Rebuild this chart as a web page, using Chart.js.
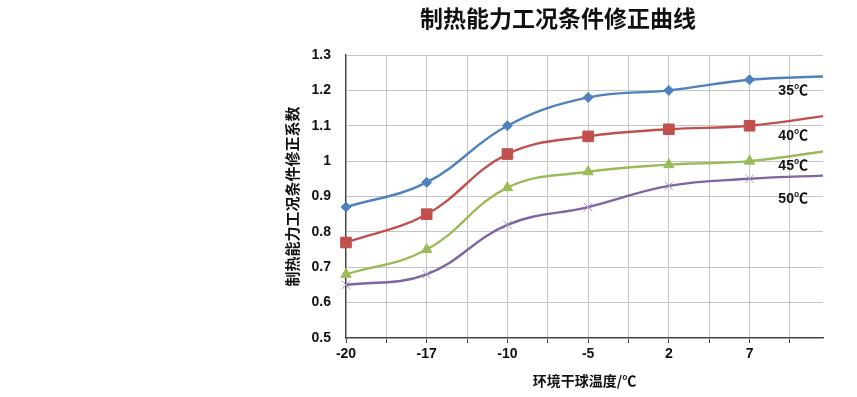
<!DOCTYPE html>
<html><head><meta charset="utf-8">
<script src="https://cdn.jsdelivr.net/npm/chart.js@4"></script>
<style>html,body{margin:0;padding:0;background:#fff}#wrap{position:absolute;left:0;top:0;width:857px;height:397px}</style>
</head><body><div id="wrap"><canvas id="c" width="857" height="397"></canvas></div>
<script>
const categories = ['-20', '-17', '-10', '-5', '2', '7', ''];
const s35 = [0.87, 0.94, 1.10, 1.18, 1.20, 1.23, 1.24];
const s40 = [0.77, 0.85, 1.02, 1.07, 1.09, 1.10, 1.13];
const s45 = [0.68, 0.75, 0.925, 0.97, 0.99, 1.00, 1.03];
const s50 = [0.65, 0.68, 0.82, 0.87, 0.93, 0.95, 0.96];
const seriesNames = ['35℃', '40℃', '45℃', '50℃'];
const labelX = [5.54, 5.54, 5.54, 5.54];
const labelY = [1.199, 1.072, 0.986, 0.893];
const titleText = '制热能力工况条件修正曲线';
const yTitle = '制热能力工况条件修正系数';
const xTitle = '环境干球温度/℃';

const pts = arr => arr.map((v, i) => ({x: i, y: v}));
const FONT = "'Liberation Sans', Arial, 'Noto Sans CJK SC', sans-serif";
const CJK = "'Noto Sans CJK SC', sans-serif";

const mk = (name, data, color, style, r, pcolor, pbw) => ({
  label: name, data: pts(data), borderColor: color, backgroundColor: pcolor || color,
  pointBackgroundColor: pcolor || color, pointBorderColor: pcolor || color,
  pointBorderWidth: pbw || 1, borderWidth: 2.4, pointStyle: style, pointRadius: r,
  pointHoverRadius: r, tension: 0.4, clip: {left: 12, top: 12, bottom: 12, right: 0}
});

const overlay = {
  id: 'overlay',
  afterDraw(chart) {
    const ctx = chart.ctx, xs = chart.scales.x, ys = chart.scales.y;
    ctx.save();
    ctx.fillStyle = '#111';
    ctx.textAlign = 'center'; ctx.textBaseline = 'middle';
    ctx.font = "bold 23px " + CJK;
    ctx.fillText(titleText, 558, 18);
    ctx.font = "bold 14px " + FONT;
    seriesNames.forEach((n, i) => {
      ctx.fillText(n, xs.getPixelForValue(labelX[i]), ys.getPixelForValue(labelY[i]));
    });
    ctx.restore();
  }
};

new Chart(document.getElementById('c'), {
  type: 'line',
  data: {
    datasets: [
      mk(seriesNames[0], s35, '#4f81bd', 'rectRot', 5),
      mk(seriesNames[1], s40, '#c0504d', 'rect', 7.5),
      mk(seriesNames[2], s45, '#9bbb59', 'triangle', 6),
      mk(seriesNames[3], s50, '#8064a2', 'crossRot', 6, '#a897c4', 1)
    ]
  },
  options: {
    responsive: false, animation: false, devicePixelRatio: 1,
    layout: {padding: {left: 270, right: 34, top: 55, bottom: 0}},
    plugins: {legend: {display: false}, title: {display: false}, tooltip: {enabled: false}},
    scales: {
      x: {
        type: 'linear', min: 0, max: 5.91,
        afterFit: s => { s.height = 59; },
        ticks: {stepSize: 0.5, includeBounds: false, autoSkip: false, maxRotation: 0,
          padding: 3, color: '#111', font: {family: FONT, size: 14, weight: 'bold'},
          callback: v => Number.isInteger(v) ? categories[v] : ''},
        grid: {color: '#c4c4c4', lineWidth: 1, drawTicks: true, tickLength: 5, tickColor: '#404040'},
        border: {display: true, color: '#404040', width: 1.2},
        title: {display: true, text: xTitle, color: '#111', padding: {top: 0, bottom: 8},
          font: {family: CJK, size: 14, weight: 'bold'}}
      },
      y: {
        min: 0.5, max: 1.3,
        afterFit: s => { s.width = 76; },
        ticks: {stepSize: 0.1, padding: 15, color: '#111', font: {family: FONT, size: 14, weight: 'bold'},
          callback: v => String(Math.round(v * 10) / 10)},
        grid: {color: '#c4c4c4', lineWidth: 1, drawTicks: false},
        border: {display: true, color: '#404040', width: 1.2},
        title: {display: true, text: yTitle, color: '#111', padding: {top: 13, bottom: 0},
          font: {family: CJK, size: 15, weight: 'bold'}}
      }
    }
  },
  plugins: [overlay]
});
</script></body></html>
